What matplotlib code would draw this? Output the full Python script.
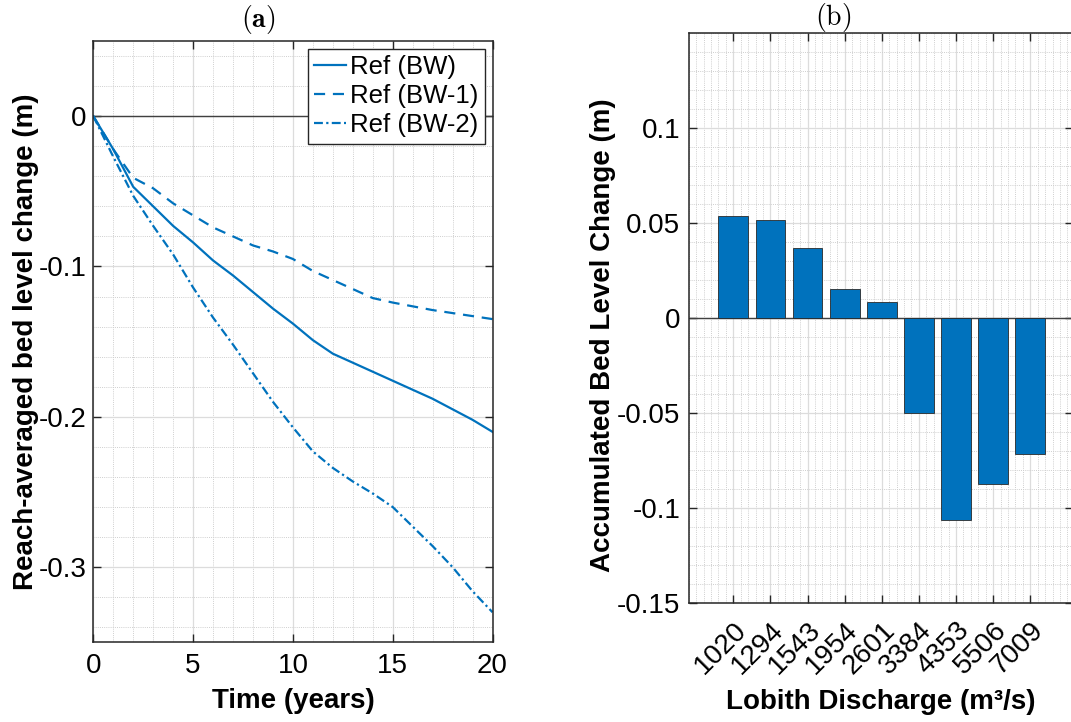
import numpy as np
import matplotlib
matplotlib.use("Agg")
import matplotlib.pyplot as plt
from matplotlib.ticker import MultipleLocator

plt.rcParams['font.family'] = ['Liberation Sans', 'DejaVu Sans']
plt.rcParams['mathtext.fontset'] = 'cm'

# (a) reach-averaged bed level change
years = [0, 1, 2, 3, 4, 5, 6, 7, 8, 9, 10, 11, 12, 13, 14, 15, 16, 17, 18, 19, 20]
ref_bw = [0, -0.022, -0.047, -0.060, -0.073, -0.084, -0.096, -0.106, -0.117, -0.128, -0.138,
          -0.149, -0.158, -0.164, -0.170, -0.176, -0.182, -0.188, -0.195, -0.202, -0.210]
ref_bw1 = [0, -0.022, -0.041, -0.048, -0.058, -0.066, -0.074, -0.080, -0.086, -0.090, -0.095,
           -0.103, -0.109, -0.115, -0.121, -0.124, -0.1265, -0.129, -0.131, -0.133, -0.135]
ref_bw2 = [0, -0.027, -0.053, -0.073, -0.092, -0.114, -0.134, -0.152, -0.171, -0.190, -0.207,
           -0.223, -0.234, -0.243, -0.251, -0.260, -0.273, -0.286, -0.300, -0.316, -0.330]

# (b) accumulated bed level change per discharge class
discharge = ['1020', '1294', '1543', '1954', '2601', '3384', '4353', '5506', '7009']
bed_change = [0.0535, 0.0516, 0.0368, 0.0151, 0.0084, -0.0502, -0.1063, -0.0872, -0.0716]

blue = '#0072BD'
W, H = 1071, 722
fig = plt.figure(figsize=(W / 100, H / 100), dpi=100)

fs_tick = 20
fs_lab = 20
fs_leg = 18.5
fs_title = 20


def style(ax):
    ax.tick_params(which='both', direction='in', top=True, right=True,
                   labelsize=fs_tick, colors='#262626', labelcolor='black')
    ax.tick_params(which='major', length=6, width=1)
    ax.tick_params(which='minor', length=0)
    ax.grid(which='major', color='#dcdcdc', lw=0.9, ls='-')
    ax.grid(which='minor', color='#cfcfcf', lw=0.7, ls=(0, (1, 1.2)))
    ax.set_axisbelow(True)
    for s in ax.spines.values():
        s.set_color('#262626')
        s.set_linewidth(1.1)


# ---- (a)
ax1_box = [93.3, 41, 399.2, 601.3]  # left, top, width, height in px
ax1 = fig.add_axes([ax1_box[0] / W, 1 - (ax1_box[1] + ax1_box[3]) / H,
                    ax1_box[2] / W, ax1_box[3] / H])
ax1.axhline(0, color='#404040', lw=1.0, zorder=1)
ax1.plot(years, ref_bw, color=blue, lw=1.6, ls='-', label='Ref (BW)')
ax1.plot(years, ref_bw1, color=blue, lw=1.6, ls=(0, (5, 3.5)), label='Ref (BW-1)')
ax1.plot(years, ref_bw2, color=blue, lw=1.6, ls=(0, (4, 1.5, 1, 1.5)), label='Ref (BW-2)')
ax1.set_xlim(0, 20)
ax1.set_ylim(-0.35, 0.05)
ax1.set_xticks([0, 5, 10, 15, 20])
ax1.set_yticks([-0.3, -0.2, -0.1, 0])
ax1.set_yticklabels(['-0.3', '-0.2', '-0.1', '0'])
ax1.xaxis.set_minor_locator(MultipleLocator(1))
ax1.yaxis.set_minor_locator(MultipleLocator(0.02))
style(ax1)
ax1.tick_params(axis='x', pad=8)
ax1.tick_params(axis='y', pad=5)
ax1.set_xlabel('Time (years)', fontsize=fs_lab, fontweight='bold')
ax1.xaxis.set_label_coords((293 - ax1_box[0]) / ax1_box[2], -(701 - 642.3) / ax1_box[3])
ax1.xaxis.label.set_va('center')
ax1.set_ylabel('Reach-averaged bed level change (m)', fontsize=fs_lab, fontweight='bold')
ax1.yaxis.set_label_coords(-(93.3 - 26) / ax1_box[2], 0.5)
ax1.yaxis.label.set_va('center')
leg = ax1.legend(loc='upper right', fontsize=fs_leg, frameon=True, fancybox=False,
                 edgecolor='#262626', framealpha=1, handlelength=1.25, handletextpad=0.15,
                 borderpad=0.25, labelspacing=0.2, borderaxespad=0.3)
leg.get_frame().set_linewidth(1.0)
fig.text(258 / W, 1 - 19 / H, r'$\mathbf{(a)}$', fontsize=fs_title, ha='center', va='center')

# ---- (b)
ax2_box = [688.7, 33, W - 688.7 + 2, 570]
ax2 = fig.add_axes([ax2_box[0] / W, 1 - (ax2_box[1] + ax2_box[3]) / H,
                    ax2_box[2] / W, ax2_box[3] / H])
pos = np.arange(1, len(discharge) + 1)
ax2.bar(pos, bed_change, width=0.8, color=blue, edgecolor='#2a2a2a', lw=0.6, zorder=3)
ax2.axhline(0, color='#404040', lw=1.0, zorder=2)
ax2.set_xlim(-0.2, 10.15)
ax2.set_ylim(-0.15, 0.15)
ax2.set_xticks(pos)
ax2.set_xticklabels(discharge, rotation=45, ha='right', va='top', rotation_mode='anchor')
ax2.set_yticks([-0.15, -0.1, -0.05, 0, 0.05, 0.1])
ax2.set_yticklabels(['-0.15', '-0.1', '-0.05', '0', '0.05', '0.1'])
ax2.xaxis.set_minor_locator(MultipleLocator(0.2))
ax2.yaxis.set_minor_locator(MultipleLocator(0.01))
style(ax2)
ax2.tick_params(axis='x', pad=10)
ax2.tick_params(axis='y', pad=6)
ax2.set_xlabel('Lobith Discharge (m³/s)', fontsize=fs_lab, fontweight='bold')
ax2.xaxis.set_label_coords((881 - ax2_box[0]) / ax2_box[2], -(702 - 603) / ax2_box[3])
ax2.xaxis.label.set_va('center')
ax2.set_ylabel('Accumulated Bed Level Change (m)', fontsize=fs_lab, fontweight='bold')
ax2.yaxis.set_label_coords(-(688.7 - 603) / ax2_box[2], 0.47)
ax2.yaxis.label.set_va('center')
fig.text(833 / W, 1 - 17 / H, r'$\mathrm{(b)}$', fontsize=fs_title, ha='center', va='center')

fig.savefig('out.png', dpi=100)
